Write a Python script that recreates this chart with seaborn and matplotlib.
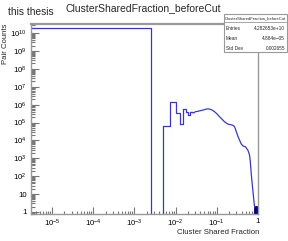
import numpy as np
import matplotlib
matplotlib.use("Agg")
import matplotlib.pyplot as plt
import seaborn as sns
import pandas as pd
from matplotlib.patches import Rectangle

# ---- data ----
# coarse-looking low-fraction bins (linear bins of width 0.0025)
bin_edges = [0.0, 0.0025, 0.005, 0.0075, 0.01, 0.0125, 0.015, 0.0175, 0.02, 0.0225, 0.025]
bin_counts = [1.9e10, 0, 6.3e4, 1.35e6, 3.2e5, 8.0e4, 5.5e5, 4.0e5, 2.6e5, 3.7e5]
# finely binned part that renders as a smooth curve on the log axis
curve_x = [0.025, 0.0275, 0.03, 0.034, 0.0405, 0.047, 0.0535, 0.06, 0.067, 0.078,
           0.0885, 0.1, 0.117, 0.135, 0.154, 0.183, 0.2, 0.215, 0.232, 0.245, 0.26,
           0.27, 0.297, 0.325, 0.356, 0.39, 0.428, 0.46, 0.498, 0.53, 0.566, 0.6,
           0.622, 0.65, 0.684, 0.73, 0.778, 0.823]
curve_y = [3.7e5, 3.4e5, 4.0e5, 4.2e5, 4.6e5, 5.0e5, 5.5e5, 5.8e5, 5.6e5, 4.9e5,
           4.0e5, 3.1e5, 2.1e5, 1.5e5, 1.1e5, 8.3e4, 7.8e4, 7.6e4, 7.3e4, 7.0e4, 6.3e4,
           5.8e4, 3.1e4, 1.7e4, 1.05e4, 6.5e3, 5.0e3, 4.6e3, 4.4e3, 3.5e3, 2.9e3, 2.0e3,
           1.5e3, 700, 145, 30, 7, 2]
tail_edges = [0.78, 0.85, 0.92, 1.0]
tail_counts = [2.0, 2.2, 2.0]

x_ticks = [1e-5, 1e-4, 1e-3, 1e-2, 1e-1, 1.0]
x_tick_labels = ["$10^{-5}$", "$10^{-4}$", "$10^{-3}$", "$10^{-2}$", "$10^{-1}$", "1"]
y_ticks = [1, 10, 1e2, 1e3, 1e4, 1e5, 1e6, 1e7, 1e8, 1e9, 1e10]
y_tick_labels = ["1", "10", "$10^{2}$", "$10^{3}$", "$10^{4}$", "$10^{5}$", "$10^{6}$",
                 "$10^{7}$", "$10^{8}$", "$10^{9}$", "$10^{10}$"]

title = "ClusterSharedFraction_beforeCut"
x_label = "Cluster Shared Fraction"
y_label = "Pair Counts"
stat_names = ["Entries", "Mean", "Std Dev"]
stat_values = ["4.282653e+10", "4.884e\u221205", "0.002655"]

# ---- style ----
sns.set_theme(style="white")
plt.rcParams["font.family"] = ["Liberation Sans", "DejaVu Sans"]
plt.rcParams["mathtext.fontset"] = "custom"
plt.rcParams["mathtext.rm"] = "Liberation Sans"
plt.rcParams["mathtext.it"] = "Liberation Sans:italic"
plt.rcParams["mathtext.bf"] = "Liberation Sans:bold"

W, H = 288, 241
fig = plt.figure(figsize=(W / 100, H / 100), dpi=100)
fig.patch.set_facecolor("white")
L, R, T, B = 31, 258, 24, 214
ax = fig.add_axes([L / W, 1 - B / H, (R - L) / W, (B - T) / H])

line_col = "#3838c4"
edges = np.array(bin_edges)
centers = 0.5 * (edges[:-1] + edges[1:])
sns.histplot(x=centers, weights=bin_counts, bins=bin_edges, element="step",
             fill=False, color=line_col, linewidth=0.9, ax=ax)
curve_df = pd.DataFrame({"x": curve_x, "y": curve_y})
sns.lineplot(data=curve_df, x="x", y="y", sort=False, estimator=None,
             color=line_col, linewidth=0.9, ax=ax)
tedges = np.array(tail_edges)
tcenters = 0.5 * (tedges[:-1] + tedges[1:])
sns.histplot(x=tcenters, weights=tail_counts, bins=tail_edges, element="step",
             fill=True, color="#000080", alpha=1.0, linewidth=0.6, ax=ax)

ax.set_xscale("log")
ax.set_yscale("log")
ax.set_xlim(3.1e-6, 1.0)
ax.set_ylim(0.77, 3.2e10)
ax.set_xlabel("")
ax.set_ylabel("")

ax.set_xticks(x_ticks)
ax.set_xticklabels(x_tick_labels)
ax.set_yticks(y_ticks)
ax.set_yticklabels(y_tick_labels)
ax.xaxis.set_minor_locator(matplotlib.ticker.LogLocator(base=10, subs=np.arange(2, 10), numticks=20))
ax.yaxis.set_minor_locator(matplotlib.ticker.LogLocator(base=10, subs=np.arange(2, 10), numticks=20))
ax.xaxis.set_minor_formatter(matplotlib.ticker.NullFormatter())
ax.yaxis.set_minor_formatter(matplotlib.ticker.NullFormatter())

tick_col = "#777777"
ax.tick_params(axis="both", which="both", direction="in", colors=tick_col,
               labelcolor="black", labelsize=5.6, bottom=True, left=True,
               top=False, right=False)
ax.tick_params(axis="x", which="major", length=5, width=0.8, pad=3)
ax.tick_params(axis="x", which="minor", length=2.5, width=0.8)
ax.tick_params(axis="y", which="major", length=6, width=0.8, pad=3)
ax.tick_params(axis="y", which="minor", length=3, width=0.8)
for s in ax.spines.values():
    s.set_color("#999999")
    s.set_linewidth(1.0)
ax.spines["top"].set_linewidth(1.6)

# ---- texts ----
def fx(px):
    return px / W

def fy(py):
    return 1 - py / H

fig.text(fx(8), fy(15), "this thesis", fontsize=7.3, ha="left", va="baseline")
fig.text(fx(143.5), fy(11), title, fontsize=7.5, ha="center", va="baseline")
fig.text(fx(R + 1), fy(232), x_label, fontsize=5.6, ha="right", va="center")
fig.text(fx(6), fy(T), y_label, fontsize=5.6, ha="center", va="top", rotation=90)

# stats box
bx0, by0, bx1, by1 = 224, 14, 287, 52
fig.patches.append(Rectangle((fx(bx0), fy(by1)), fx(bx1 - bx0), (by1 - by0) / H,
                             transform=fig.transFigure, facecolor="white",
                             edgecolor="#999999", linewidth=0.8, zorder=5))
fig.add_artist(plt.Line2D([fx(bx0), fx(bx1)], [fy(22), fy(22)], color="#999999",
                          linewidth=0.6, transform=fig.transFigure, zorder=6))
fig.text(fx((bx0 + bx1) / 2), fy(18), title, fontsize=3.0, ha="center", va="center", zorder=7)
for i, (n, v) in enumerate(zip(stat_names, stat_values)):
    yy = 28 + 10 * i
    fig.text(fx(226), fy(yy), n, fontsize=3.4, ha="left", va="center", zorder=7)
    fig.text(fx(285), fy(yy), v, fontsize=3.4, ha="right", va="center", zorder=7)

fig.savefig("out.png", dpi=100, facecolor="white")
